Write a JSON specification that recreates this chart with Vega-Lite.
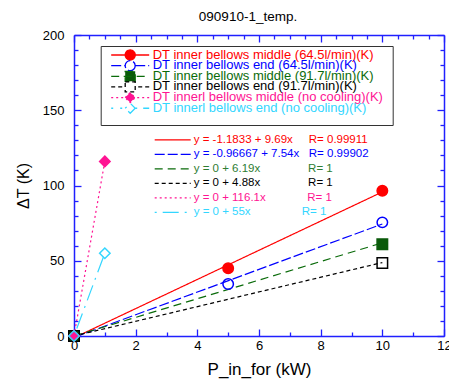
{
  "$schema": "https://vega.github.io/schema/vega-lite/v6.json",
  "width": 370,
  "height": 301,
  "padding": {"left": 15, "top": 9, "right": 5, "bottom": 5},
  "title": {"text": "090910-1_temp.", "fontSize": 13.5, "fontWeight": "normal", "font": "Liberation Sans", "color": "black", "offset": 6, "dx": -11},
  "config": {"view": {"stroke": null}, "font": "Liberation Sans"},
  "datasets": {
    "fits": [
      {"series": "DT inner bellows middle (64.5l/min)(K)", "fit": "y = -1.1833 + 9.69x\u00a0\u00a0\u00a0\u00a0\u00a0R= 0.99911", "x": 0, "y": -1.1833},
      {"series": "DT inner bellows middle (64.5l/min)(K)", "fit": "y = -1.1833 + 9.69x\u00a0\u00a0\u00a0\u00a0\u00a0R= 0.99911", "x": 10, "y": 95.72},
      {"series": "DT inner bellows end (64.5l/min)(K)", "fit": "y = -0.96667 + 7.54x\u00a0\u00a0\u00a0R= 0.99902", "x": 0, "y": -0.96667},
      {"series": "DT inner bellows end (64.5l/min)(K)", "fit": "y = -0.96667 + 7.54x\u00a0\u00a0\u00a0R= 0.99902", "x": 10, "y": 74.43},
      {"series": "DT inner bellows middle (91.7l/min)(K)", "fit": "y = 0 + 6.19x\u00a0\u00a0\u00a0\u00a0\u00a0\u00a0\u00a0\u00a0\u00a0\u00a0\u00a0\u00a0\u00a0\u00a0\u00a0R= 1", "x": 0, "y": 0},
      {"series": "DT inner bellows middle (91.7l/min)(K)", "fit": "y = 0 + 6.19x\u00a0\u00a0\u00a0\u00a0\u00a0\u00a0\u00a0\u00a0\u00a0\u00a0\u00a0\u00a0\u00a0\u00a0\u00a0R= 1", "x": 10, "y": 61.9},
      {"series": "DT inner bellows end (91.7l/min)(K)", "fit": "y = 0 + 4.88x\u00a0\u00a0\u00a0\u00a0\u00a0\u00a0\u00a0\u00a0\u00a0\u00a0\u00a0\u00a0\u00a0\u00a0\u00a0R= 1", "x": 0, "y": 0},
      {"series": "DT inner bellows end (91.7l/min)(K)", "fit": "y = 0 + 4.88x\u00a0\u00a0\u00a0\u00a0\u00a0\u00a0\u00a0\u00a0\u00a0\u00a0\u00a0\u00a0\u00a0\u00a0\u00a0R= 1", "x": 10, "y": 48.8},
      {"series": "DT innerl bellows middle (no cooling)(K)", "fit": "y = 0 + 116.1x\u00a0\u00a0\u00a0\u00a0\u00a0\u00a0\u00a0\u00a0\u00a0\u00a0\u00a0\u00a0\u00a0R= 1", "x": 0, "y": 0},
      {"series": "DT innerl bellows middle (no cooling)(K)", "fit": "y = 0 + 116.1x\u00a0\u00a0\u00a0\u00a0\u00a0\u00a0\u00a0\u00a0\u00a0\u00a0\u00a0\u00a0\u00a0R= 1", "x": 1, "y": 116.1},
      {"series": "DT innerl bellows end (no cooling)(K)", "fit": "y = 0 + 55x\u00a0\u00a0\u00a0\u00a0\u00a0\u00a0\u00a0\u00a0\u00a0\u00a0\u00a0\u00a0\u00a0\u00a0\u00a0\u00a0R= 1", "x": 0, "y": 0},
      {"series": "DT innerl bellows end (no cooling)(K)", "fit": "y = 0 + 55x\u00a0\u00a0\u00a0\u00a0\u00a0\u00a0\u00a0\u00a0\u00a0\u00a0\u00a0\u00a0\u00a0\u00a0\u00a0\u00a0R= 1", "x": 1, "y": 55}
    ],
    "points": [
      {"curve": "DT inner bellows middle (64.5l/min)(K)", "x": 0, "y": 0},
      {"curve": "DT inner bellows middle (64.5l/min)(K)", "x": 5, "y": 45},
      {"curve": "DT inner bellows middle (64.5l/min)(K)", "x": 10, "y": 96.5},
      {"curve": "DT inner bellows end (64.5l/min)(K)", "x": 0, "y": 0},
      {"curve": "DT inner bellows end (64.5l/min)(K)", "x": 5, "y": 34.5},
      {"curve": "DT inner bellows end (64.5l/min)(K)", "x": 10, "y": 75.5},
      {"curve": "DT inner bellows middle (91.7l/min)(K)", "x": 0, "y": 0},
      {"curve": "DT inner bellows middle (91.7l/min)(K)", "x": 10, "y": 61},
      {"curve": "DT inner bellows end (91.7l/min)(K)", "x": 0, "y": 0},
      {"curve": "DT inner bellows end (91.7l/min)(K)", "x": 10, "y": 48.5},
      {"curve": "DT innerl bellows middle (no cooling)(K)", "x": 0, "y": 0},
      {"curve": "DT innerl bellows middle (no cooling)(K)", "x": 1, "y": 116},
      {"curve": "DT innerl bellows end (no cooling)(K)", "x": 0, "y": 0},
      {"curve": "DT innerl bellows end (no cooling)(K)", "x": 1, "y": 55}
    ]
  },
  "layer": [
    {
      "data": {"name": "fits"},
      "mark": {"type": "line", "strokeWidth": 1.2},
      "encoding": {
        "x": {"field": "x", "type": "quantitative", "scale": {"domain": [0, 12], "nice": false, "zero": false},
          "axis": {"orient": "bottom", "values": [0,0.5,1,1.5,2,2.5,3,3.5,4,4.5,5,5.5,6,6.5,7,7.5,8,8.5,9,9.5,10,10.5,11,11.5,12], "format": "d",
            "labelExpr": "datum.value % 2 === 0 ? datum.label : ''", "labelOverlap": false, "labelFlush": false, "labelBound": false,
            "domainColor": "#2020ff", "domainWidth": 1.5, "tickColor": "#2020ff", "tickWidth": 1.3,
            "tickSize": {"condition": {"test": "datum.value % 2 === 0", "value": -7}, "value": -4},
            "labelFont": "Liberation Sans", "labelFontSize": 13, "labelColor": "black", "labelPadding": 10,
            "title": "P_in_for (kW)", "titleFont": "Liberation Sans", "titleFontSize": 17, "titleFontWeight": "normal", "titleColor": "black", "titlePadding": 6, "grid": false}},
        "y": {"field": "y", "type": "quantitative", "scale": {"domain": [0, 200], "nice": false},
          "axis": {"orient": "left", "values": [0,10,20,30,40,50,60,70,80,90,100,110,120,130,140,150,160,170,180,190,200],
            "labelExpr": "datum.value % 50 === 0 ? datum.label : ''", "labelOverlap": false, "labelFlush": false, "labelBound": false,
            "domainColor": "#2020ff", "domainWidth": 1.5, "tickColor": "#2020ff", "tickWidth": 1.3,
            "tickSize": {"condition": {"test": "datum.value % 50 === 0", "value": -7}, "value": -4},
            "labelFont": "Liberation Sans", "labelFontSize": 13, "labelColor": "black", "labelPadding": 17,
            "title": "ΔT (K)", "titleFont": "Liberation Sans", "titleFontSize": 16, "titleFontWeight": "normal", "titleColor": "black", "titlePadding": 11, "grid": false}},
        "color": {"field": "series", "type": "nominal",
          "scale": {"domain": ["DT inner bellows middle (64.5l/min)(K)", "DT inner bellows end (64.5l/min)(K)", "DT inner bellows middle (91.7l/min)(K)", "DT inner bellows end (91.7l/min)(K)", "DT innerl bellows middle (no cooling)(K)", "DT innerl bellows end (no cooling)(K)"],
            "range": ["#ff0000", "#0000ff", "#0a6b0a", "#000000", "#ff1493", "#33d6ff"]},
          "legend": {"orient": "none", "legendX": 26.7, "legendY": 11, "title": null, "symbolSize": 100, "symbolStrokeWidth": 1.3,
            "labelFont": "Liberation Sans", "labelFontSize": 13, "labelBaseline": "bottom", "labelOffset": 30, "labelLimit": 400, "rowPadding": -5.35, "padding": 9, "strokeColor": "#333333",
            "encode": {
              "symbols": {"update": {
                "shape": {"signal": "['M-1,-1.3H6.6M3.8,-1.3A1,1,0,1,1,1.8,-1.3A1,1,0,1,1,3.8,-1.3Z', 'M-1,-1.3H1.8M3.8,-1.3H6.6M3.8,-1.3A1,1,0,1,1,1.8,-1.3A1,1,0,1,1,3.8,-1.3Z', 'M-1,-1.3H0.9M1.5,-1.3H6.6M1.8,-2.3H3.8V-0.3H1.8Z', 'M-1,-1.3H-0.2M0.4,-1.3H1.2M4.4,-1.3H5.2M5.8,-1.3H6.6M1.8,-2.3H3.8V-0.3H1.8Z', 'M-1,-1.3H-0.6M0,-1.3H0.4M1,-1.3H1.4M4.2,-1.3H4.6M5.2,-1.3H5.6M6.2,-1.3H6.6M1.8,-1.3L2.8,-2.3L3.8,-1.3L2.8,-0.3Z', 'M-1,-1.3H-0.6M0.8,-1.3H1.8M3.8,-1.3H6.6M1.8,-1.3L2.8,-2.3L3.8,-1.3L2.8,-0.3Z'][datum.index]"},
                "fill": {"signal": "['#ff0000','transparent','#0a5a0a','transparent','#ff1493','transparent'][datum.index]"},
                "stroke": {"signal": "['#ff0000','#0000ff','#0a5a0a','#000000','#ff1493','#33d6ff'][datum.index]"},
                "strokeDash": {"value": [1, 0]},
                "strokeWidth": {"value": 1.3},
                "opacity": {"value": 1}}},
              "labels": {"update": {
                "fill": {"signal": "['#ff0000','#0000ff','#0a6b0a','#000000','#ff1493','#33d6ff'][datum.index]"}}}}}},
        "strokeDash": {"field": "series", "type": "nominal",
          "scale": {"domain": ["DT inner bellows middle (64.5l/min)(K)", "DT inner bellows end (64.5l/min)(K)", "DT inner bellows middle (91.7l/min)(K)", "DT inner bellows end (91.7l/min)(K)", "DT innerl bellows middle (no cooling)(K)", "DT innerl bellows end (no cooling)(K)"],
            "range": [[1, 0], [10, 3], [8, 5], [4, 3], [2, 3], [2, 6, 16, 6]]},
          "legend": null},
        "strokeWidth": {"field": "fit", "type": "ordinal",
          "scale": {"domain": ["y = -1.1833 + 9.69x\u00a0\u00a0\u00a0\u00a0\u00a0R= 0.99911", "y = -0.96667 + 7.54x\u00a0\u00a0\u00a0R= 0.99902", "y = 0 + 6.19x\u00a0\u00a0\u00a0\u00a0\u00a0\u00a0\u00a0\u00a0\u00a0\u00a0\u00a0\u00a0\u00a0\u00a0\u00a0R= 1", "y = 0 + 4.88x\u00a0\u00a0\u00a0\u00a0\u00a0\u00a0\u00a0\u00a0\u00a0\u00a0\u00a0\u00a0\u00a0\u00a0\u00a0R= 1", "y = 0 + 116.1x\u00a0\u00a0\u00a0\u00a0\u00a0\u00a0\u00a0\u00a0\u00a0\u00a0\u00a0\u00a0\u00a0R= 1", "y = 0 + 55x\u00a0\u00a0\u00a0\u00a0\u00a0\u00a0\u00a0\u00a0\u00a0\u00a0\u00a0\u00a0\u00a0\u00a0\u00a0\u00a0R= 1"],
            "range": [1.2, 1.2, 1.2, 1.2, 1.2, 1.2]},
          "legend": {"orient": "none", "legendX": 79.7, "legendY": 98.8, "title": null, "symbolType": "M-1,0H6.2", "symbolSize": 100,
            "labelFont": "Liberation Sans", "labelFontSize": 11.5, "labelOffset": 28, "labelLimit": 400, "rowPadding": 2.5, "padding": 0,
            "encode": {
              "symbols": {"update": {"stroke": {"signal": "['#ff0000','#0000ff','#0a6b0a','#000000','#ff1493','#33d6ff'][datum.index]"}, "strokeDash": {"signal": "[[1,0],[10,3],[8,5],[4,3],[2,3],[2,6,16,6]][datum.index]"}, "strokeWidth": {"value": 1.2}}},
              "labels": {"update": {"fill": {"signal": "['#ff0000','#0000ff','#2e7d32','#000000','#ff1493','#33d6ff'][datum.index]"}}}}}}
      }
    },
    {
      "data": {"name": "points"},
      "mark": {"type": "point", "filled": false, "opacity": 1, "size": 110, "strokeWidth": 1.5},
      "encoding": {
        "x": {"field": "x", "type": "quantitative",
          "axis": {"orient": "top", "values": [0,0.5,1,1.5,2,2.5,3,3.5,4,4.5,5,5.5,6,6.5,7,7.5,8,8.5,9,9.5,10,10.5,11,11.5,12], "labels": false, "title": null,
            "domainColor": "#2020ff", "domainWidth": 1.5, "tickColor": "#2020ff", "tickWidth": 1.3,
            "tickSize": {"condition": {"test": "datum.value % 2 === 0", "value": -7}, "value": -4}, "grid": false}},
        "y": {"field": "y", "type": "quantitative",
          "axis": {"orient": "right", "values": [0,10,20,30,40,50,60,70,80,90,100,110,120,130,140,150,160,170,180,190,200], "labels": false, "title": null,
            "domainColor": "#2020ff", "domainWidth": 1.5, "tickColor": "#2020ff", "tickWidth": 1.3,
            "tickSize": {"condition": {"test": "datum.value % 50 === 0", "value": -7}, "value": -4}, "grid": false}},
        "stroke": {"field": "curve", "type": "nominal", "sort": null,
          "scale": {"range": ["#ff0000", "#0000ff", "#0a5a0a", "#000000", "#ff1493", "#33d6ff"]}, "legend": null},
        "fill": {"field": "curve", "type": "nominal", "sort": null,
          "scale": {"range": ["#ff0000", "transparent", "#0a5a0a", "transparent", "#ff1493", "transparent"]}, "legend": null},
        "shape": {"field": "curve", "type": "nominal", "sort": null,
          "scale": {"range": ["circle", "circle", "square", "square", "diamond", "diamond"]}, "legend": null}
      }
    }
  ],
  "resolve": {"axis": {"x": "independent", "y": "independent"}}
}
